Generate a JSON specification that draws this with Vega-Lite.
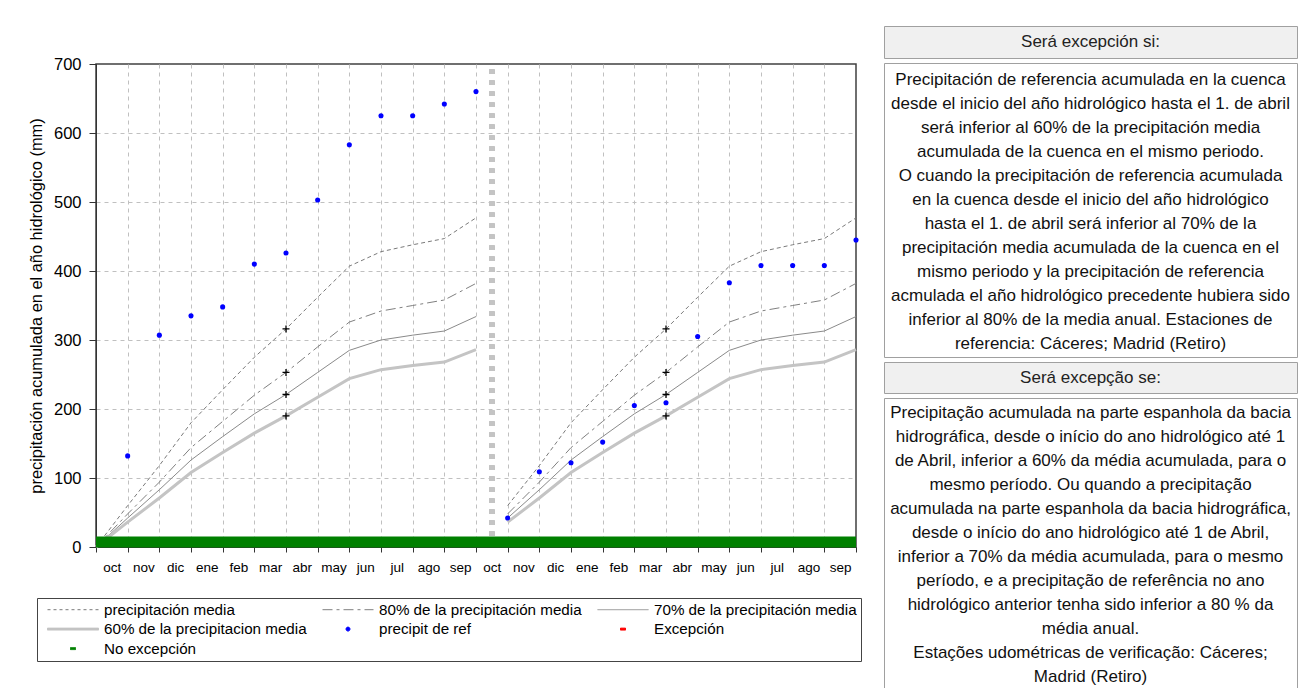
{
  "$schema": "https://vega.github.io/schema/vega-lite/v6.json",
  "background": "#ffffff",
  "padding": {"left": 27, "top": 25, "right": 4, "bottom": 0},
  "spacing": 4,
  "config": {"font": "Liberation Sans", "text": {"font": "Liberation Sans"}},
  "datasets": {
    "serie": [
      {"mes": 0, "valor": 0, "serie": "precipitación media", "tramo": 1},
      {"mes": 1, "valor": 60, "serie": "precipitación media", "tramo": 1},
      {"mes": 2, "valor": 118, "serie": "precipitación media", "tramo": 1},
      {"mes": 3, "valor": 180, "serie": "precipitación media", "tramo": 1},
      {"mes": 4, "valor": 228, "serie": "precipitación media", "tramo": 1},
      {"mes": 5, "valor": 275, "serie": "precipitación media", "tramo": 1},
      {"mes": 6, "valor": 316, "serie": "precipitación media", "tramo": 1},
      {"mes": 7, "valor": 362, "serie": "precipitación media", "tramo": 1},
      {"mes": 8, "valor": 407, "serie": "precipitación media", "tramo": 1},
      {"mes": 9, "valor": 428, "serie": "precipitación media", "tramo": 1},
      {"mes": 10, "valor": 438, "serie": "precipitación media", "tramo": 1},
      {"mes": 11, "valor": 447, "serie": "precipitación media", "tramo": 1},
      {"mes": 12, "valor": 477, "serie": "precipitación media", "tramo": 1},
      {"mes": 13, "valor": 60, "serie": "precipitación media", "tramo": 2},
      {"mes": 14, "valor": 118, "serie": "precipitación media", "tramo": 2},
      {"mes": 15, "valor": 180, "serie": "precipitación media", "tramo": 2},
      {"mes": 16, "valor": 228, "serie": "precipitación media", "tramo": 2},
      {"mes": 17, "valor": 275, "serie": "precipitación media", "tramo": 2},
      {"mes": 18, "valor": 316, "serie": "precipitación media", "tramo": 2},
      {"mes": 19, "valor": 362, "serie": "precipitación media", "tramo": 2},
      {"mes": 20, "valor": 407, "serie": "precipitación media", "tramo": 2},
      {"mes": 21, "valor": 428, "serie": "precipitación media", "tramo": 2},
      {"mes": 22, "valor": 438, "serie": "precipitación media", "tramo": 2},
      {"mes": 23, "valor": 447, "serie": "precipitación media", "tramo": 2},
      {"mes": 24, "valor": 477, "serie": "precipitación media", "tramo": 2},

      {"mes": 0, "valor": 0, "serie": "80% de la precipitación media", "tramo": 1},
      {"mes": 1, "valor": 48, "serie": "80% de la precipitación media", "tramo": 1},
      {"mes": 2, "valor": 94, "serie": "80% de la precipitación media", "tramo": 1},
      {"mes": 3, "valor": 144, "serie": "80% de la precipitación media", "tramo": 1},
      {"mes": 4, "valor": 182, "serie": "80% de la precipitación media", "tramo": 1},
      {"mes": 5, "valor": 220, "serie": "80% de la precipitación media", "tramo": 1},
      {"mes": 6, "valor": 253, "serie": "80% de la precipitación media", "tramo": 1},
      {"mes": 7, "valor": 290, "serie": "80% de la precipitación media", "tramo": 1},
      {"mes": 8, "valor": 326, "serie": "80% de la precipitación media", "tramo": 1},
      {"mes": 9, "valor": 342, "serie": "80% de la precipitación media", "tramo": 1},
      {"mes": 10, "valor": 350, "serie": "80% de la precipitación media", "tramo": 1},
      {"mes": 11, "valor": 358, "serie": "80% de la precipitación media", "tramo": 1},
      {"mes": 12, "valor": 382, "serie": "80% de la precipitación media", "tramo": 1},
      {"mes": 13, "valor": 48, "serie": "80% de la precipitación media", "tramo": 2},
      {"mes": 14, "valor": 94, "serie": "80% de la precipitación media", "tramo": 2},
      {"mes": 15, "valor": 144, "serie": "80% de la precipitación media", "tramo": 2},
      {"mes": 16, "valor": 182, "serie": "80% de la precipitación media", "tramo": 2},
      {"mes": 17, "valor": 220, "serie": "80% de la precipitación media", "tramo": 2},
      {"mes": 18, "valor": 253, "serie": "80% de la precipitación media", "tramo": 2},
      {"mes": 19, "valor": 290, "serie": "80% de la precipitación media", "tramo": 2},
      {"mes": 20, "valor": 326, "serie": "80% de la precipitación media", "tramo": 2},
      {"mes": 21, "valor": 342, "serie": "80% de la precipitación media", "tramo": 2},
      {"mes": 22, "valor": 350, "serie": "80% de la precipitación media", "tramo": 2},
      {"mes": 23, "valor": 358, "serie": "80% de la precipitación media", "tramo": 2},
      {"mes": 24, "valor": 382, "serie": "80% de la precipitación media", "tramo": 2},

      {"mes": 0, "valor": 0, "serie": "70% de la precipitación media", "tramo": 1},
      {"mes": 1, "valor": 42, "serie": "70% de la precipitación media", "tramo": 1},
      {"mes": 2, "valor": 83, "serie": "70% de la precipitación media", "tramo": 1},
      {"mes": 3, "valor": 126, "serie": "70% de la precipitación media", "tramo": 1},
      {"mes": 4, "valor": 160, "serie": "70% de la precipitación media", "tramo": 1},
      {"mes": 5, "valor": 193, "serie": "70% de la precipitación media", "tramo": 1},
      {"mes": 6, "valor": 221, "serie": "70% de la precipitación media", "tramo": 1},
      {"mes": 7, "valor": 253, "serie": "70% de la precipitación media", "tramo": 1},
      {"mes": 8, "valor": 285, "serie": "70% de la precipitación media", "tramo": 1},
      {"mes": 9, "valor": 300, "serie": "70% de la precipitación media", "tramo": 1},
      {"mes": 10, "valor": 307, "serie": "70% de la precipitación media", "tramo": 1},
      {"mes": 11, "valor": 313, "serie": "70% de la precipitación media", "tramo": 1},
      {"mes": 12, "valor": 334, "serie": "70% de la precipitación media", "tramo": 1},
      {"mes": 13, "valor": 42, "serie": "70% de la precipitación media", "tramo": 2},
      {"mes": 14, "valor": 83, "serie": "70% de la precipitación media", "tramo": 2},
      {"mes": 15, "valor": 126, "serie": "70% de la precipitación media", "tramo": 2},
      {"mes": 16, "valor": 160, "serie": "70% de la precipitación media", "tramo": 2},
      {"mes": 17, "valor": 193, "serie": "70% de la precipitación media", "tramo": 2},
      {"mes": 18, "valor": 221, "serie": "70% de la precipitación media", "tramo": 2},
      {"mes": 19, "valor": 253, "serie": "70% de la precipitación media", "tramo": 2},
      {"mes": 20, "valor": 285, "serie": "70% de la precipitación media", "tramo": 2},
      {"mes": 21, "valor": 300, "serie": "70% de la precipitación media", "tramo": 2},
      {"mes": 22, "valor": 307, "serie": "70% de la precipitación media", "tramo": 2},
      {"mes": 23, "valor": 313, "serie": "70% de la precipitación media", "tramo": 2},
      {"mes": 24, "valor": 334, "serie": "70% de la precipitación media", "tramo": 2},

      {"mes": 0, "valor": 0, "serie": "60% de la precipitacion media", "tramo": 1},
      {"mes": 1, "valor": 36, "serie": "60% de la precipitacion media", "tramo": 1},
      {"mes": 2, "valor": 71, "serie": "60% de la precipitacion media", "tramo": 1},
      {"mes": 3, "valor": 108, "serie": "60% de la precipitacion media", "tramo": 1},
      {"mes": 4, "valor": 137, "serie": "60% de la precipitacion media", "tramo": 1},
      {"mes": 5, "valor": 165, "serie": "60% de la precipitacion media", "tramo": 1},
      {"mes": 6, "valor": 190, "serie": "60% de la precipitacion media", "tramo": 1},
      {"mes": 7, "valor": 217, "serie": "60% de la precipitacion media", "tramo": 1},
      {"mes": 8, "valor": 244, "serie": "60% de la precipitacion media", "tramo": 1},
      {"mes": 9, "valor": 257, "serie": "60% de la precipitacion media", "tramo": 1},
      {"mes": 10, "valor": 263, "serie": "60% de la precipitacion media", "tramo": 1},
      {"mes": 11, "valor": 268, "serie": "60% de la precipitacion media", "tramo": 1},
      {"mes": 12, "valor": 286, "serie": "60% de la precipitacion media", "tramo": 1},
      {"mes": 13, "valor": 36, "serie": "60% de la precipitacion media", "tramo": 2},
      {"mes": 14, "valor": 71, "serie": "60% de la precipitacion media", "tramo": 2},
      {"mes": 15, "valor": 108, "serie": "60% de la precipitacion media", "tramo": 2},
      {"mes": 16, "valor": 137, "serie": "60% de la precipitacion media", "tramo": 2},
      {"mes": 17, "valor": 165, "serie": "60% de la precipitacion media", "tramo": 2},
      {"mes": 18, "valor": 190, "serie": "60% de la precipitacion media", "tramo": 2},
      {"mes": 19, "valor": 217, "serie": "60% de la precipitacion media", "tramo": 2},
      {"mes": 20, "valor": 244, "serie": "60% de la precipitacion media", "tramo": 2},
      {"mes": 21, "valor": 257, "serie": "60% de la precipitacion media", "tramo": 2},
      {"mes": 22, "valor": 263, "serie": "60% de la precipitacion media", "tramo": 2},
      {"mes": 23, "valor": 268, "serie": "60% de la precipitacion media", "tramo": 2},
      {"mes": 24, "valor": 286, "serie": "60% de la precipitacion media", "tramo": 2},

      {"mes": 1, "valor": 132, "serie": "precipit de ref", "tramo": 1},
      {"mes": 2, "valor": 307, "serie": "precipit de ref", "tramo": 1},
      {"mes": 3, "valor": 335, "serie": "precipit de ref", "tramo": 1},
      {"mes": 4, "valor": 348, "serie": "precipit de ref", "tramo": 1},
      {"mes": 5, "valor": 410, "serie": "precipit de ref", "tramo": 1},
      {"mes": 6, "valor": 426, "serie": "precipit de ref", "tramo": 1},
      {"mes": 7, "valor": 503, "serie": "precipit de ref", "tramo": 1},
      {"mes": 8, "valor": 583, "serie": "precipit de ref", "tramo": 1},
      {"mes": 9, "valor": 625, "serie": "precipit de ref", "tramo": 1},
      {"mes": 10, "valor": 625, "serie": "precipit de ref", "tramo": 1},
      {"mes": 11, "valor": 642, "serie": "precipit de ref", "tramo": 1},
      {"mes": 12, "valor": 660, "serie": "precipit de ref", "tramo": 1},
      {"mes": 13, "valor": 42, "serie": "precipit de ref", "tramo": 2},
      {"mes": 14, "valor": 109, "serie": "precipit de ref", "tramo": 2},
      {"mes": 15, "valor": 122, "serie": "precipit de ref", "tramo": 2},
      {"mes": 16, "valor": 152, "serie": "precipit de ref", "tramo": 2},
      {"mes": 17, "valor": 205, "serie": "precipit de ref", "tramo": 2},
      {"mes": 18, "valor": 209, "serie": "precipit de ref", "tramo": 2},
      {"mes": 19, "valor": 305, "serie": "precipit de ref", "tramo": 2},
      {"mes": 20, "valor": 383, "serie": "precipit de ref", "tramo": 2},
      {"mes": 21, "valor": 408, "serie": "precipit de ref", "tramo": 2},
      {"mes": 22, "valor": 408, "serie": "precipit de ref", "tramo": 2},
      {"mes": 23, "valor": 408, "serie": "precipit de ref", "tramo": 2},
      {"mes": 24, "valor": 445, "serie": "precipit de ref", "tramo": 2},

      {"mes": 0, "valor": 0, "serie": "No excepción", "tramo": 1},
      {"mes": 24, "valor": 0, "serie": "No excepción", "tramo": 1}
    ],
    "umbral": [
      {"mes": 6, "valor": 316},
      {"mes": 6, "valor": 253},
      {"mes": 6, "valor": 221},
      {"mes": 6, "valor": 190},
      {"mes": 18, "valor": 316},
      {"mes": 18, "valor": 253},
      {"mes": 18, "valor": 221},
      {"mes": 18, "valor": 190}
    ],
    "texto_es": [
      {"n": 1, "linea": "Precipitación de referencia acumulada en la cuenca"},
      {"n": 2, "linea": "desde el inicio del año hidrológico hasta el 1. de abril"},
      {"n": 3, "linea": "será inferior al 60% de la precipitación media"},
      {"n": 4, "linea": "acumulada de la cuenca en el mismo periodo."},
      {"n": 5, "linea": "O cuando la precipitación de referencia acumulada"},
      {"n": 6, "linea": "en la cuenca desde el inicio del año hidrológico"},
      {"n": 7, "linea": "hasta el 1. de abril será inferior al 70% de la"},
      {"n": 8, "linea": "precipitación media acumulada de la cuenca en el"},
      {"n": 9, "linea": "mismo periodo y la precipitación de referencia"},
      {"n": 10, "linea": "acmulada el año hidrológico precedente hubiera sido"},
      {"n": 11, "linea": "inferior al 80% de la media anual. Estaciones de"},
      {"n": 12, "linea": "referencia: Cáceres; Madrid (Retiro)"}
    ],
    "texto_pt": [
      {"n": 1, "linea": "Precipitação acumulada na parte espanhola da bacia"},
      {"n": 2, "linea": "hidrográfica, desde o início do ano hidrológico até 1"},
      {"n": 3, "linea": "de Abril, inferior a 60% da média acumulada, para o"},
      {"n": 4, "linea": "mesmo período. Ou quando a precipitação"},
      {"n": 5, "linea": "acumulada na parte espanhola da bacia hidrográfica,"},
      {"n": 6, "linea": "desde o início do ano hidrológico até 1 de Abril,"},
      {"n": 7, "linea": "inferior a 70% da média acumulada, para o mesmo"},
      {"n": 8, "linea": "período, e a precipitação de referência no ano"},
      {"n": 9, "linea": "hidrológico anterior tenha sido inferior a 80 % da"},
      {"n": 10, "linea": "média anual."},
      {"n": 11, "linea": "Estações udométricas de verificação: Cáceres;"},
      {"n": 12, "linea": "Madrid (Retiro)"}
    ],
    "cab_es": [{"linea": "Será excepción si:"}],
    "cab_pt": [{"linea": "Será excepção se:"}]
  },
  "hconcat": [
    {
      "spacing": 0,
      "vconcat": [
        {
          "width": 760,
          "height": 29,
          "view": {"stroke": null, "fill": null},
          "data": {"values": []},
          "mark": "point"
        },
        {
          "width": 760,
          "height": 483,
          "view": {"stroke": "#404040", "strokeWidth": 1.5},
          "data": {"name": "serie"},
          "encoding": {
            "x": {
              "field": "mes", "type": "quantitative",
              "scale": {"domain": [0, 24], "nice": false, "zero": false},
              "axis": {
                "title": null,
                "values": [0,1,2,3,4,5,6,7,8,9,10,11,12,13,14,15,16,17,18,19,20,21,22,23,24],
                "labelExpr": "datum.value < 24 ? ['oct','nov','dic','ene','feb','mar','abr','may','jun','jul','ago','sep'][datum.value % 12] : ''",
                "labelOffset": 15.83,
                "labelFontSize": 13.5,
                "labelColor": "#000000",
                "labelPadding": 8,
                "labelFlush": false,
                "labelOverlap": false,
                "labelBound": false,
                "tickSize": 5,
                "tickColor": "#333333",
                "domainColor": "#333333",
                "grid": true,
                "gridColor": "#c0c0c0",
                "gridDash": [4, 4],
                "gridOpacity": {"condition": {"test": "datum.value === 0 || datum.value === 24", "value": 0}, "value": 1}
              }
            },
            "y": {
              "field": "valor", "type": "quantitative",
              "scale": {"domain": [0, 700], "nice": false},
              "axis": {
                "title": "precipitación acumulada en el año hidrológico (mm)",
                "titleFontSize": 16.4,
                "titleFontWeight": "normal",
                "titleColor": "#000000",
                "titlePadding": 9,
                "values": [0, 100, 200, 300, 400, 500, 600, 700],
                "labelFontSize": 16.5,
                "labelColor": "#000000",
                "labelPadding": 8,
                "tickSize": 7,
                "tickColor": "#333333",
                "domainColor": "#333333",
                "grid": true,
                "gridColor": "#c0c0c0",
                "gridDash": [4, 4],
                "gridOpacity": {"condition": {"test": "datum.value === 0 || datum.value === 700", "value": 0}, "value": 1}
              }
            },
            "color": {
              "field": "serie", "type": "nominal",
              "scale": {
                "domain": ["precipitación media", "80% de la precipitación media", "70% de la precipitación media", "60% de la precipitacion media", "precipit de ref", "Excepción", "No excepción"],
                "range": ["#7a7a7a", "#808080", "#8a8a8a", "#c4c4c4", "#0000ff", "#ff0000", "#008000"]
              },
              "legend": {
                "title": null,
                "orient": "none",
                "direction": "horizontal",
                "legendX": -59,
                "legendY": 572,
                "columns": 3,
                "gridAlign": "all",
                "symbolType": "stroke",
                "symbolSize": 100,
                "symbolStrokeWidth": 1,
                "symbolOffset": 24.4,
                "labelFont": "Liberation Sans",
                "labelFontSize": 15.2,
                "labelColor": "#000000",
                "labelOffset": 23.4,
                "labelLimit": 400,
                "rowPadding": 3.5,
                "columnPadding": 9,
                "padding": 4,
                "strokeColor": "#444444",
                "fillColor": "#ffffff",
                "encode": {
                  "symbols": {
                    "update": {
                      "shape": {"signal": "datum.value === 'precipit de ref' ? 'M-0.4,0A0.4,0.4,0,1,0,0.4,0A0.4,0.4,0,1,0,-0.4,0Z' : ((datum.value === 'Excepción' || datum.value === 'No excepción') ? 'M-0.5,-0.2H0.5V0.2H-0.5Z' : (datum.value === '60% de la precipitacion media' ? 'M-5.1,-0.2H5.1V0.2H-5.1Z' : 'M-5.1,0H5.1'))"},
                      "strokeDash": {"signal": "datum.value === 'precipitación media' ? [3, 3] : (datum.value === '80% de la precipitación media' ? [10, 4, 3, 4] : [1, 0])"},
                      "fill": {"signal": "(datum.value === 'precipit de ref' || datum.value === 'Excepción' || datum.value === 'No excepción' || datum.value === '60% de la precipitacion media') ? scale('color', datum.value) : 'transparent'"},
                      "stroke": {"signal": "scale('color', datum.value)"},
                      "opacity": {"value": 1}
                    }
                  }
                }
              }
            }
          },
          "layer": [
            {
              "transform": [{"filter": "datum.serie === 'precipitación media'"}],
              "mark": {"type": "line", "strokeWidth": 1, "strokeDash": [4, 3]},
              "encoding": {"detail": {"field": "tramo", "type": "nominal"}}
            },
            {
              "transform": [{"filter": "datum.serie === '80% de la precipitación media'"}],
              "mark": {"type": "line", "strokeWidth": 1, "strokeDash": [10, 4, 3, 4]},
              "encoding": {"detail": {"field": "tramo", "type": "nominal"}}
            },
            {
              "transform": [{"filter": "datum.serie === '70% de la precipitación media'"}],
              "mark": {"type": "line", "strokeWidth": 1},
              "encoding": {"detail": {"field": "tramo", "type": "nominal"}}
            },
            {
              "transform": [{"filter": "datum.serie === '60% de la precipitacion media'"}],
              "mark": {"type": "line", "strokeWidth": 3},
              "encoding": {"detail": {"field": "tramo", "type": "nominal"}}
            },
            {
              "mark": {"type": "rule", "strokeWidth": 4.5, "strokeDash": [4.5, 6.5], "color": "#c4c4c4"},
              "encoding": {
                "x": {"datum": 12.5, "type": "quantitative"},
                "y": {"datum": 0, "type": "quantitative"},
                "y2": {"datum": 700},
                "color": {"value": "#c4c4c4"}
              }
            },
            {
              "transform": [{"filter": "datum.serie === 'No excepción'"}],
              "mark": {"type": "line", "strokeWidth": 11, "strokeCap": "butt", "yOffset": -5},
              "encoding": {"detail": {"field": "tramo", "type": "nominal"}}
            },
            {
              "data": {"name": "umbral"},
              "mark": {"type": "point", "shape": "M-1,0H1M0,-1V1", "size": 49, "filled": false, "strokeWidth": 1.3, "opacity": 1},
              "encoding": {"color": {"value": "#000000"}}
            },
            {
              "transform": [{"filter": "datum.serie === 'precipit de ref'"}],
              "mark": {"type": "point", "filled": true, "size": 26, "opacity": 1}
            }
          ]
        }
      ]
    },
    {
      "spacing": 3,
      "vconcat": [
        {
          "width": 413, "height": 32,
          "view": {"fill": "#f0f0f0", "stroke": "#a0a0a0"},
          "data": {"name": "cab_es"},
          "mark": {"type": "text", "font": "Liberation Sans", "fontSize": 17, "align": "center", "baseline": "middle", "color": "#222222"},
          "encoding": {
            "x": {"datum": 0.5, "type": "quantitative", "scale": {"domain": [0, 1]}, "axis": null},
            "y": {"datum": 0.5, "type": "quantitative", "scale": {"domain": [0, 1]}, "axis": null},
            "text": {"field": "linea"}
          }
        },
        {
          "width": 413, "height": 294,
          "view": {"fill": "#ffffff", "stroke": "#a0a0a0"},
          "data": {"name": "texto_es"},
          "mark": {"type": "text", "font": "Liberation Sans", "fontSize": 17, "align": "center", "baseline": "middle", "color": "#111111"},
          "encoding": {
            "x": {"datum": 0.5, "type": "quantitative", "scale": {"domain": [0, 1]}, "axis": null},
            "y": {"field": "n", "type": "quantitative", "axis": null, "scale": {"domain": [0.2917, 12.5417], "reverse": true, "nice": false, "zero": false}},
            "text": {"field": "linea"}
          }
        },
        {
          "width": 413, "height": 31,
          "view": {"fill": "#f0f0f0", "stroke": "#a0a0a0"},
          "data": {"name": "cab_pt"},
          "mark": {"type": "text", "font": "Liberation Sans", "fontSize": 17, "align": "center", "baseline": "middle", "color": "#222222"},
          "encoding": {
            "x": {"datum": 0.5, "type": "quantitative", "scale": {"domain": [0, 1]}, "axis": null},
            "y": {"datum": 0.5, "type": "quantitative", "scale": {"domain": [0, 1]}, "axis": null},
            "text": {"field": "linea"}
          }
        },
        {
          "width": 413, "height": 290,
          "view": {"fill": "#ffffff", "stroke": "#a0a0a0"},
          "data": {"name": "texto_pt"},
          "mark": {"type": "text", "font": "Liberation Sans", "fontSize": 17, "align": "center", "baseline": "middle", "color": "#111111"},
          "encoding": {
            "x": {"datum": 0.5, "type": "quantitative", "scale": {"domain": [0, 1]}, "axis": null},
            "y": {"field": "n", "type": "quantitative", "axis": null, "scale": {"domain": [0.375, 12.4583], "reverse": true, "nice": false, "zero": false}},
            "text": {"field": "linea"}
          }
        }
      ]
    }
  ]
}
